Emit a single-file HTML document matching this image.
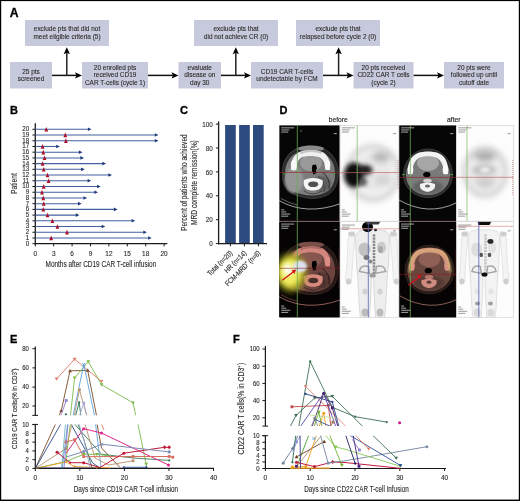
<!DOCTYPE html>
<html><head><meta charset="utf-8"><style>
html,body{margin:0;padding:0;background:#fff;}
body{width:520px;height:501px;overflow:hidden;}
svg{display:block;will-change:transform;font-family:"Liberation Sans",sans-serif;}
</style></head><body>
<svg width="520" height="501" viewBox="0 0 520 501">
<rect width="520" height="501" fill="#fff"/>
<rect x="0" y="0" width="520" height="1.1" fill="#000"/>
<rect x="0" y="0" width="1.2" height="501" fill="#000"/>
<rect x="518.8" y="0" width="1.2" height="501" fill="#000"/>
<rect x="0" y="499.6" width="520" height="1.4" fill="#000"/>
<text transform="translate(9.80,16.50)" font-size="12.2" text-anchor="start" fill="#000" font-weight="bold" stroke="#000" stroke-width="0.3">A</text>
<rect x="25" y="20" width="84" height="26" fill="#c7c9dc"/>
<text transform="translate(67.00,31.30) scale(0.9000,1)" font-size="7.2" text-anchor="middle" fill="#2a2a2a" stroke="#2a2a2a" stroke-width="0.1">exclude pts that did not</text>
<text transform="translate(67.00,38.50) scale(0.9000,1)" font-size="7.2" text-anchor="middle" fill="#2a2a2a" stroke="#2a2a2a" stroke-width="0.1">meet eligible criteria (5)</text>
<rect x="194" y="20" width="84" height="26" fill="#c7c9dc"/>
<text transform="translate(236.00,31.30) scale(0.9000,1)" font-size="7.2" text-anchor="middle" fill="#2a2a2a" stroke="#2a2a2a" stroke-width="0.1">exclude pts that</text>
<text transform="translate(236.00,38.50) scale(0.9000,1)" font-size="7.2" text-anchor="middle" fill="#2a2a2a" stroke="#2a2a2a" stroke-width="0.1">did not achieve CR (0)</text>
<rect x="296" y="20" width="84" height="26" fill="#c7c9dc"/>
<text transform="translate(338.00,31.30) scale(0.9000,1)" font-size="7.2" text-anchor="middle" fill="#2a2a2a" stroke="#2a2a2a" stroke-width="0.1">exclude pts that</text>
<text transform="translate(338.00,38.50) scale(0.9000,1)" font-size="7.2" text-anchor="middle" fill="#2a2a2a" stroke="#2a2a2a" stroke-width="0.1">relapsed before cycle 2 (0)</text>
<rect x="10" y="62" width="42" height="26.5" fill="#c7c9dc"/>
<text transform="translate(31.00,73.60) scale(0.9000,1)" font-size="7.2" text-anchor="middle" fill="#2a2a2a" stroke="#2a2a2a" stroke-width="0.1">25 pts</text>
<text transform="translate(31.00,80.90) scale(0.9000,1)" font-size="7.2" text-anchor="middle" fill="#2a2a2a" stroke="#2a2a2a" stroke-width="0.1">screened</text>
<rect x="82" y="62" width="66" height="26.5" fill="#c7c9dc"/>
<text transform="translate(115.00,69.90) scale(0.9000,1)" font-size="7.2" text-anchor="middle" fill="#2a2a2a" stroke="#2a2a2a" stroke-width="0.1">20 enrolled pts</text>
<text transform="translate(115.00,77.40) scale(0.9000,1)" font-size="7.2" text-anchor="middle" fill="#2a2a2a" stroke="#2a2a2a" stroke-width="0.1">received CD19</text>
<text transform="translate(115.00,84.90) scale(0.9000,1)" font-size="7.2" text-anchor="middle" fill="#2a2a2a" stroke="#2a2a2a" stroke-width="0.1">CAR T-cells (cycle 1)</text>
<rect x="178.5" y="62" width="42.5" height="26.5" fill="#c7c9dc"/>
<text transform="translate(199.75,69.90) scale(0.9000,1)" font-size="7.2" text-anchor="middle" fill="#2a2a2a" stroke="#2a2a2a" stroke-width="0.1">evaluate</text>
<text transform="translate(199.75,77.40) scale(0.9000,1)" font-size="7.2" text-anchor="middle" fill="#2a2a2a" stroke="#2a2a2a" stroke-width="0.1">disease on</text>
<text transform="translate(199.75,84.90) scale(0.9000,1)" font-size="7.2" text-anchor="middle" fill="#2a2a2a" stroke="#2a2a2a" stroke-width="0.1">day 30</text>
<rect x="251" y="62" width="72" height="26.5" fill="#c7c9dc"/>
<text transform="translate(287.00,73.60) scale(0.9000,1)" font-size="7.2" text-anchor="middle" fill="#2a2a2a" stroke="#2a2a2a" stroke-width="0.1">CD19 CAR T-cells</text>
<text transform="translate(287.00,80.90) scale(0.9000,1)" font-size="7.2" text-anchor="middle" fill="#2a2a2a" stroke="#2a2a2a" stroke-width="0.1">undetectable by FCM</text>
<rect x="353.5" y="62" width="60" height="26.5" fill="#c7c9dc"/>
<text transform="translate(383.50,69.90) scale(0.9000,1)" font-size="7.2" text-anchor="middle" fill="#2a2a2a" stroke="#2a2a2a" stroke-width="0.1">20 pts received</text>
<text transform="translate(383.50,77.40) scale(0.9000,1)" font-size="7.2" text-anchor="middle" fill="#2a2a2a" stroke="#2a2a2a" stroke-width="0.1">CD22 CAR T cells</text>
<text transform="translate(383.50,84.90) scale(0.9000,1)" font-size="7.2" text-anchor="middle" fill="#2a2a2a" stroke="#2a2a2a" stroke-width="0.1">(cycle 2)</text>
<rect x="444" y="62" width="60" height="26.5" fill="#c7c9dc"/>
<text transform="translate(474.00,69.90) scale(0.9000,1)" font-size="7.2" text-anchor="middle" fill="#2a2a2a" stroke="#2a2a2a" stroke-width="0.1">20 pts were</text>
<text transform="translate(474.00,77.40) scale(0.9000,1)" font-size="7.2" text-anchor="middle" fill="#2a2a2a" stroke="#2a2a2a" stroke-width="0.1">followed up until</text>
<text transform="translate(474.00,84.90) scale(0.9000,1)" font-size="7.2" text-anchor="middle" fill="#2a2a2a" stroke="#2a2a2a" stroke-width="0.1">cutoff date</text>
<line x1="52" y1="75.4" x2="77" y2="75.4" stroke="#111" stroke-width="1.5"/>
<path d="M82,75.4 L75,72.2 L76.5,75.4 L75,78.60000000000001 Z" fill="#000"/>
<line x1="66.8" y1="76.10000000000001" x2="66.8" y2="52.3" stroke="#222" stroke-width="1.5"/>
<path d="M66.8,47.3 L63.599999999999994,54.3 L66.8,52.8 L70.0,54.3 Z" fill="#000"/>
<line x1="148" y1="75.4" x2="173.5" y2="75.4" stroke="#111" stroke-width="1.5"/>
<path d="M178.5,75.4 L171.5,72.2 L173.0,75.4 L171.5,78.60000000000001 Z" fill="#000"/>
<line x1="221" y1="75.4" x2="246" y2="75.4" stroke="#111" stroke-width="1.5"/>
<path d="M251,75.4 L244,72.2 L245.5,75.4 L244,78.60000000000001 Z" fill="#000"/>
<line x1="235.8" y1="76.10000000000001" x2="235.8" y2="52.3" stroke="#222" stroke-width="1.5"/>
<path d="M235.8,47.3 L232.60000000000002,54.3 L235.8,52.8 L239.0,54.3 Z" fill="#000"/>
<line x1="323" y1="75.4" x2="348.5" y2="75.4" stroke="#111" stroke-width="1.5"/>
<path d="M353.5,75.4 L346.5,72.2 L348.0,75.4 L346.5,78.60000000000001 Z" fill="#000"/>
<line x1="338.6" y1="76.10000000000001" x2="338.6" y2="52.3" stroke="#222" stroke-width="1.5"/>
<path d="M338.6,47.3 L335.40000000000003,54.3 L338.6,52.8 L341.8,54.3 Z" fill="#000"/>
<line x1="413.6" y1="75.4" x2="439" y2="75.4" stroke="#111" stroke-width="1.5"/>
<path d="M444,75.4 L437,72.2 L438.5,75.4 L437,78.60000000000001 Z" fill="#000"/>
<text transform="translate(10.00,113.70)" font-size="11" text-anchor="start" fill="#000" font-weight="bold" stroke="#000" stroke-width="0.3">B</text>
<line x1="35.3" y1="123.3" x2="35.3" y2="244.29999999999998" stroke="#1a1a1a" stroke-width="1.3"/>
<line x1="34.699999999999996" y1="243.7" x2="167.3" y2="243.7" stroke="#1a1a1a" stroke-width="1.3"/>
<line x1="32.4" y1="243.70" x2="35.3" y2="243.70" stroke="#1a1a1a" stroke-width="1"/>
<text transform="translate(29.20,245.60) scale(0.8200,1)" font-size="7.6" text-anchor="end" fill="#333" stroke="#333" stroke-width="0.15">0</text>
<line x1="32.4" y1="237.98" x2="35.3" y2="237.98" stroke="#1a1a1a" stroke-width="1"/>
<text transform="translate(29.20,239.88) scale(0.8200,1)" font-size="7.6" text-anchor="end" fill="#333" stroke="#333" stroke-width="0.15">1</text>
<line x1="32.4" y1="232.26" x2="35.3" y2="232.26" stroke="#1a1a1a" stroke-width="1"/>
<text transform="translate(29.20,234.16) scale(0.8200,1)" font-size="7.6" text-anchor="end" fill="#333" stroke="#333" stroke-width="0.15">2</text>
<line x1="32.4" y1="226.54" x2="35.3" y2="226.54" stroke="#1a1a1a" stroke-width="1"/>
<text transform="translate(29.20,228.44) scale(0.8200,1)" font-size="7.6" text-anchor="end" fill="#333" stroke="#333" stroke-width="0.15">3</text>
<line x1="32.4" y1="220.82" x2="35.3" y2="220.82" stroke="#1a1a1a" stroke-width="1"/>
<text transform="translate(29.20,222.72) scale(0.8200,1)" font-size="7.6" text-anchor="end" fill="#333" stroke="#333" stroke-width="0.15">4</text>
<line x1="32.4" y1="215.10" x2="35.3" y2="215.10" stroke="#1a1a1a" stroke-width="1"/>
<text transform="translate(29.20,217.00) scale(0.8200,1)" font-size="7.6" text-anchor="end" fill="#333" stroke="#333" stroke-width="0.15">5</text>
<line x1="32.4" y1="209.38" x2="35.3" y2="209.38" stroke="#1a1a1a" stroke-width="1"/>
<text transform="translate(29.20,211.28) scale(0.8200,1)" font-size="7.6" text-anchor="end" fill="#333" stroke="#333" stroke-width="0.15">6</text>
<line x1="32.4" y1="203.66" x2="35.3" y2="203.66" stroke="#1a1a1a" stroke-width="1"/>
<text transform="translate(29.20,205.56) scale(0.8200,1)" font-size="7.6" text-anchor="end" fill="#333" stroke="#333" stroke-width="0.15">7</text>
<line x1="32.4" y1="197.94" x2="35.3" y2="197.94" stroke="#1a1a1a" stroke-width="1"/>
<text transform="translate(29.20,199.84) scale(0.8200,1)" font-size="7.6" text-anchor="end" fill="#333" stroke="#333" stroke-width="0.15">8</text>
<line x1="32.4" y1="192.22" x2="35.3" y2="192.22" stroke="#1a1a1a" stroke-width="1"/>
<text transform="translate(29.20,194.12) scale(0.8200,1)" font-size="7.6" text-anchor="end" fill="#333" stroke="#333" stroke-width="0.15">9</text>
<line x1="32.4" y1="186.50" x2="35.3" y2="186.50" stroke="#1a1a1a" stroke-width="1"/>
<text transform="translate(29.20,188.40) scale(0.8200,1)" font-size="7.6" text-anchor="end" fill="#333" stroke="#333" stroke-width="0.15">10</text>
<line x1="32.4" y1="180.78" x2="35.3" y2="180.78" stroke="#1a1a1a" stroke-width="1"/>
<text transform="translate(29.20,182.68) scale(0.8200,1)" font-size="7.6" text-anchor="end" fill="#333" stroke="#333" stroke-width="0.15">11</text>
<line x1="32.4" y1="175.06" x2="35.3" y2="175.06" stroke="#1a1a1a" stroke-width="1"/>
<text transform="translate(29.20,176.96) scale(0.8200,1)" font-size="7.6" text-anchor="end" fill="#333" stroke="#333" stroke-width="0.15">12</text>
<line x1="32.4" y1="169.34" x2="35.3" y2="169.34" stroke="#1a1a1a" stroke-width="1"/>
<text transform="translate(29.20,171.24) scale(0.8200,1)" font-size="7.6" text-anchor="end" fill="#333" stroke="#333" stroke-width="0.15">13</text>
<line x1="32.4" y1="163.62" x2="35.3" y2="163.62" stroke="#1a1a1a" stroke-width="1"/>
<text transform="translate(29.20,165.52) scale(0.8200,1)" font-size="7.6" text-anchor="end" fill="#333" stroke="#333" stroke-width="0.15">14</text>
<line x1="32.4" y1="157.90" x2="35.3" y2="157.90" stroke="#1a1a1a" stroke-width="1"/>
<text transform="translate(29.20,159.80) scale(0.8200,1)" font-size="7.6" text-anchor="end" fill="#333" stroke="#333" stroke-width="0.15">15</text>
<line x1="32.4" y1="152.18" x2="35.3" y2="152.18" stroke="#1a1a1a" stroke-width="1"/>
<text transform="translate(29.20,154.08) scale(0.8200,1)" font-size="7.6" text-anchor="end" fill="#333" stroke="#333" stroke-width="0.15">16</text>
<line x1="32.4" y1="146.46" x2="35.3" y2="146.46" stroke="#1a1a1a" stroke-width="1"/>
<text transform="translate(29.20,148.36) scale(0.8200,1)" font-size="7.6" text-anchor="end" fill="#333" stroke="#333" stroke-width="0.15">17</text>
<line x1="32.4" y1="140.74" x2="35.3" y2="140.74" stroke="#1a1a1a" stroke-width="1"/>
<text transform="translate(29.20,142.64) scale(0.8200,1)" font-size="7.6" text-anchor="end" fill="#333" stroke="#333" stroke-width="0.15">18</text>
<line x1="32.4" y1="135.02" x2="35.3" y2="135.02" stroke="#1a1a1a" stroke-width="1"/>
<text transform="translate(29.20,136.92) scale(0.8200,1)" font-size="7.6" text-anchor="end" fill="#333" stroke="#333" stroke-width="0.15">19</text>
<line x1="32.4" y1="129.30" x2="35.3" y2="129.30" stroke="#1a1a1a" stroke-width="1"/>
<text transform="translate(29.20,131.20) scale(0.8200,1)" font-size="7.6" text-anchor="end" fill="#333" stroke="#333" stroke-width="0.15">20</text>
<line x1="35.30" y1="243.7" x2="35.30" y2="246.4" stroke="#1a1a1a" stroke-width="1"/>
<text transform="translate(35.30,256.10) scale(0.8500,1)" font-size="7.6" text-anchor="middle" fill="#333" stroke="#333" stroke-width="0.15">0</text>
<line x1="53.70" y1="243.7" x2="53.70" y2="246.4" stroke="#1a1a1a" stroke-width="1"/>
<text transform="translate(53.70,256.10) scale(0.8500,1)" font-size="7.6" text-anchor="middle" fill="#333" stroke="#333" stroke-width="0.15">3</text>
<line x1="72.10" y1="243.7" x2="72.10" y2="246.4" stroke="#1a1a1a" stroke-width="1"/>
<text transform="translate(72.10,256.10) scale(0.8500,1)" font-size="7.6" text-anchor="middle" fill="#333" stroke="#333" stroke-width="0.15">6</text>
<line x1="90.50" y1="243.7" x2="90.50" y2="246.4" stroke="#1a1a1a" stroke-width="1"/>
<text transform="translate(90.50,256.10) scale(0.8500,1)" font-size="7.6" text-anchor="middle" fill="#333" stroke="#333" stroke-width="0.15">9</text>
<line x1="108.90" y1="243.7" x2="108.90" y2="246.4" stroke="#1a1a1a" stroke-width="1"/>
<text transform="translate(108.90,256.10) scale(0.8500,1)" font-size="7.6" text-anchor="middle" fill="#333" stroke="#333" stroke-width="0.15">12</text>
<line x1="127.30" y1="243.7" x2="127.30" y2="246.4" stroke="#1a1a1a" stroke-width="1"/>
<text transform="translate(127.30,256.10) scale(0.8500,1)" font-size="7.6" text-anchor="middle" fill="#333" stroke="#333" stroke-width="0.15">15</text>
<line x1="145.70" y1="243.7" x2="145.70" y2="246.4" stroke="#1a1a1a" stroke-width="1"/>
<text transform="translate(145.70,256.10) scale(0.8500,1)" font-size="7.6" text-anchor="middle" fill="#333" stroke="#333" stroke-width="0.15">18</text>
<line x1="164.10" y1="243.7" x2="164.10" y2="246.4" stroke="#1a1a1a" stroke-width="1"/>
<text transform="translate(164.10,256.10) scale(0.8500,1)" font-size="7.6" text-anchor="middle" fill="#333" stroke="#333" stroke-width="0.15">20</text>
<text transform="translate(45.50,267.40) scale(0.7270,1)" font-size="8.9" text-anchor="start" fill="#333" stroke="#333" stroke-width="0.15">Months after CD19 CAR T-cell infusion</text>
<text transform="translate(17.00,183.60) rotate(-90) scale(0.7915,1)" font-size="8.4" text-anchor="middle" fill="#333" stroke="#333" stroke-width="0.15">Patient</text>
<line x1="35.3" y1="129.30" x2="89.00" y2="129.30" stroke="#42609f" stroke-width="1.05"/>
<path d="M91.50,129.30 L87.90,127.50 L87.90,131.10 Z" fill="#1e3a7a"/>
<line x1="35.3" y1="135.02" x2="155.90" y2="135.02" stroke="#42609f" stroke-width="1.05"/>
<path d="M158.40,135.02 L154.80,133.22 L154.80,136.82 Z" fill="#1e3a7a"/>
<line x1="35.3" y1="140.74" x2="155.90" y2="140.74" stroke="#42609f" stroke-width="1.05"/>
<path d="M158.40,140.74 L154.80,138.94 L154.80,142.54 Z" fill="#1e3a7a"/>
<line x1="35.3" y1="146.46" x2="57.30" y2="146.46" stroke="#42609f" stroke-width="1.05"/>
<path d="M59.80,146.46 L56.20,144.66 L56.20,148.26 Z" fill="#1e3a7a"/>
<line x1="35.3" y1="152.18" x2="80.00" y2="152.18" stroke="#42609f" stroke-width="1.05"/>
<path d="M82.50,152.18 L78.90,150.38 L78.90,153.98 Z" fill="#1e3a7a"/>
<line x1="35.3" y1="157.90" x2="81.50" y2="157.90" stroke="#42609f" stroke-width="1.05"/>
<path d="M84.00,157.90 L80.40,156.10 L80.40,159.70 Z" fill="#1e3a7a"/>
<line x1="35.3" y1="163.62" x2="103.50" y2="163.62" stroke="#42609f" stroke-width="1.05"/>
<path d="M106.00,163.62 L102.40,161.82 L102.40,165.42 Z" fill="#1e3a7a"/>
<line x1="35.3" y1="169.34" x2="82.20" y2="169.34" stroke="#42609f" stroke-width="1.05"/>
<path d="M84.70,169.34 L81.10,167.54 L81.10,171.14 Z" fill="#1e3a7a"/>
<line x1="35.3" y1="175.06" x2="109.50" y2="175.06" stroke="#42609f" stroke-width="1.05"/>
<path d="M112.00,175.06 L108.40,173.26 L108.40,176.86 Z" fill="#1e3a7a"/>
<line x1="35.3" y1="180.78" x2="88.70" y2="180.78" stroke="#42609f" stroke-width="1.05"/>
<path d="M91.20,180.78 L87.60,178.98 L87.60,182.58 Z" fill="#1e3a7a"/>
<line x1="35.3" y1="186.50" x2="98.20" y2="186.50" stroke="#42609f" stroke-width="1.05"/>
<path d="M100.70,186.50 L97.10,184.70 L97.10,188.30 Z" fill="#1e3a7a"/>
<line x1="35.3" y1="192.22" x2="95.50" y2="192.22" stroke="#42609f" stroke-width="1.05"/>
<path d="M98.00,192.22 L94.40,190.42 L94.40,194.02 Z" fill="#1e3a7a"/>
<line x1="35.3" y1="197.94" x2="84.60" y2="197.94" stroke="#42609f" stroke-width="1.05"/>
<path d="M87.10,197.94 L83.50,196.14 L83.50,199.74 Z" fill="#1e3a7a"/>
<line x1="35.3" y1="203.66" x2="79.10" y2="203.66" stroke="#42609f" stroke-width="1.05"/>
<path d="M81.60,203.66 L78.00,201.86 L78.00,205.46 Z" fill="#1e3a7a"/>
<line x1="35.3" y1="209.38" x2="115.00" y2="209.38" stroke="#42609f" stroke-width="1.05"/>
<path d="M117.50,209.38 L113.90,207.58 L113.90,211.18 Z" fill="#1e3a7a"/>
<line x1="35.3" y1="215.10" x2="76.90" y2="215.10" stroke="#42609f" stroke-width="1.05"/>
<path d="M79.40,215.10 L75.80,213.30 L75.80,216.90 Z" fill="#1e3a7a"/>
<line x1="35.3" y1="220.82" x2="132.70" y2="220.82" stroke="#42609f" stroke-width="1.05"/>
<path d="M135.20,220.82 L131.60,219.02 L131.60,222.62 Z" fill="#1e3a7a"/>
<line x1="35.3" y1="226.54" x2="102.80" y2="226.54" stroke="#42609f" stroke-width="1.05"/>
<path d="M105.30,226.54 L101.70,224.74 L101.70,228.34 Z" fill="#1e3a7a"/>
<line x1="35.3" y1="232.26" x2="144.40" y2="232.26" stroke="#42609f" stroke-width="1.05"/>
<path d="M146.90,232.26 L143.30,230.46 L143.30,234.06 Z" fill="#1e3a7a"/>
<line x1="35.3" y1="237.98" x2="149.20" y2="237.98" stroke="#42609f" stroke-width="1.05"/>
<path d="M151.70,237.98 L148.10,236.18 L148.10,239.78 Z" fill="#1e3a7a"/>
<path d="M46.30,126.90 L48.20,131.50 L44.40,131.50 Z" fill="#a8102c"/>
<path d="M65.30,132.62 L67.20,137.22 L63.40,137.22 Z" fill="#a8102c"/>
<path d="M65.90,138.34 L67.80,142.94 L64.00,142.94 Z" fill="#a8102c"/>
<path d="M42.60,144.06 L44.50,148.66 L40.70,148.66 Z" fill="#a8102c"/>
<path d="M43.30,149.78 L45.20,154.38 L41.40,154.38 Z" fill="#a8102c"/>
<path d="M44.50,155.50 L46.40,160.10 L42.60,160.10 Z" fill="#a8102c"/>
<path d="M42.60,161.22 L44.50,165.82 L40.70,165.82 Z" fill="#a8102c"/>
<path d="M43.70,166.94 L45.60,171.54 L41.80,171.54 Z" fill="#a8102c"/>
<path d="M47.50,172.66 L49.40,177.26 L45.60,177.26 Z" fill="#a8102c"/>
<path d="M48.60,178.38 L50.50,182.98 L46.70,182.98 Z" fill="#a8102c"/>
<path d="M43.70,184.10 L45.60,188.70 L41.80,188.70 Z" fill="#a8102c"/>
<path d="M42.00,189.82 L43.90,194.42 L40.10,194.42 Z" fill="#a8102c"/>
<path d="M43.30,195.54 L45.20,200.14 L41.40,200.14 Z" fill="#a8102c"/>
<path d="M43.70,201.26 L45.60,205.86 L41.80,205.86 Z" fill="#a8102c"/>
<path d="M43.30,206.98 L45.20,211.58 L41.40,211.58 Z" fill="#a8102c"/>
<path d="M47.50,212.70 L49.40,217.30 L45.60,217.30 Z" fill="#a8102c"/>
<path d="M52.40,218.42 L54.30,223.02 L50.50,223.02 Z" fill="#a8102c"/>
<path d="M57.40,224.14 L59.30,228.74 L55.50,228.74 Z" fill="#a8102c"/>
<path d="M67.00,229.86 L68.90,234.46 L65.10,234.46 Z" fill="#a8102c"/>
<path d="M51.20,235.58 L53.10,240.18 L49.30,240.18 Z" fill="#a8102c"/>
<text transform="translate(180.00,114.00)" font-size="11" text-anchor="start" fill="#000" font-weight="bold" stroke="#000" stroke-width="0.3">C</text>
<line x1="218.6" y1="121.4" x2="218.6" y2="244.3" stroke="#1a1a1a" stroke-width="1.3"/>
<line x1="215.9" y1="124.10" x2="218.6" y2="124.10" stroke="#1a1a1a" stroke-width="1"/>
<text transform="translate(212.80,126.70) scale(0.8500,1)" font-size="7.4" text-anchor="end" fill="#333" stroke="#333" stroke-width="0.15">100</text>
<line x1="215.9" y1="148.00" x2="218.6" y2="148.00" stroke="#1a1a1a" stroke-width="1"/>
<text transform="translate(212.80,150.60) scale(0.8500,1)" font-size="7.4" text-anchor="end" fill="#333" stroke="#333" stroke-width="0.15">80</text>
<line x1="215.9" y1="171.90" x2="218.6" y2="171.90" stroke="#1a1a1a" stroke-width="1"/>
<text transform="translate(212.80,174.50) scale(0.8500,1)" font-size="7.4" text-anchor="end" fill="#333" stroke="#333" stroke-width="0.15">60</text>
<line x1="215.9" y1="195.80" x2="218.6" y2="195.80" stroke="#1a1a1a" stroke-width="1"/>
<text transform="translate(212.80,198.40) scale(0.8500,1)" font-size="7.4" text-anchor="end" fill="#333" stroke="#333" stroke-width="0.15">40</text>
<line x1="215.9" y1="219.70" x2="218.6" y2="219.70" stroke="#1a1a1a" stroke-width="1"/>
<text transform="translate(212.80,222.30) scale(0.8500,1)" font-size="7.4" text-anchor="end" fill="#333" stroke="#333" stroke-width="0.15">20</text>
<line x1="215.9" y1="243.60" x2="218.6" y2="243.60" stroke="#1a1a1a" stroke-width="1"/>
<text transform="translate(212.80,246.20) scale(0.8500,1)" font-size="7.4" text-anchor="end" fill="#333" stroke="#333" stroke-width="0.15">0</text>
<rect x="225.1" y="125" width="10.7" height="118.6" fill="#2d4a7e"/>
<rect x="239.1" y="125" width="10.7" height="118.6" fill="#2d4a7e"/>
<rect x="253.0" y="125" width="10.7" height="118.6" fill="#2d4a7e"/>
<line x1="218.0" y1="243.6" x2="267" y2="243.6" stroke="#1a1a1a" stroke-width="1.3"/>
<line x1="230.4" y1="243.6" x2="230.4" y2="246.3" stroke="#1a1a1a" stroke-width="1"/>
<line x1="244.4" y1="243.6" x2="244.4" y2="246.3" stroke="#1a1a1a" stroke-width="1"/>
<line x1="258.4" y1="243.6" x2="258.4" y2="246.3" stroke="#1a1a1a" stroke-width="1"/>
<text transform="translate(233.00,253.60) rotate(-45) scale(0.8200,1)" font-size="7.4" text-anchor="end" fill="#333" stroke="#333" stroke-width="0.15">Total (n=20)</text>
<text transform="translate(247.00,253.60) rotate(-45) scale(0.8200,1)" font-size="7.4" text-anchor="end" fill="#333" stroke="#333" stroke-width="0.15">HR (n=14)</text>
<text transform="translate(261.00,253.60) rotate(-45) scale(0.8200,1)" font-size="7.4" text-anchor="end" fill="#333" stroke="#333" stroke-width="0.15">FCM-MRD⁺ (n=6)</text>
<text transform="translate(187.00,182.60) rotate(-90) scale(0.7917,1)" font-size="8.3" text-anchor="middle" fill="#333" stroke="#333" stroke-width="0.15">Percent of patients who achieved</text>
<text transform="translate(196.80,182.60) rotate(-90) scale(0.8048,1)" font-size="8.3" text-anchor="middle" fill="#333" stroke="#333" stroke-width="0.15">MRD complete remission(%)</text>
<text transform="translate(279.50,113.80)" font-size="11" text-anchor="start" fill="#000" font-weight="bold" stroke="#000" stroke-width="0.3">D</text>
<text transform="translate(338.20,121.70) scale(0.8724,1)" font-size="7.6" text-anchor="middle" fill="#222" stroke="#222" stroke-width="0.15">before</text>
<text transform="translate(453.80,121.70) scale(0.8943,1)" font-size="7.6" text-anchor="middle" fill="#222" stroke="#222" stroke-width="0.15">after</text>
<defs>
<filter id="bl03" x="-20%" y="-20%" width="140%" height="140%"><feGaussianBlur stdDeviation="0.35"/></filter>
<filter id="bl05" x="-20%" y="-20%" width="140%" height="140%"><feGaussianBlur stdDeviation="0.6"/></filter>
<filter id="bl1" x="-30%" y="-30%" width="160%" height="160%"><feGaussianBlur stdDeviation="1"/></filter>
<filter id="bl2" x="-50%" y="-50%" width="200%" height="200%"><feGaussianBlur stdDeviation="2"/></filter>
<filter id="bl3" x="-50%" y="-50%" width="200%" height="200%"><feGaussianBlur stdDeviation="3"/></filter>
<filter id="bl4" x="-50%" y="-50%" width="200%" height="200%"><feGaussianBlur stdDeviation="4.5"/></filter>
<filter id="tintB" color-interpolation-filters="sRGB"><feColorMatrix type="matrix" values="0.88 0 0 0 0  0 0.56 0 0 0  0 0 0.52 0 0  0 0 0 1 0"/></filter>
<filter id="tintA" color-interpolation-filters="sRGB"><feColorMatrix type="matrix" values="0.86 0 0 0 0  0 0.58 0 0 0  0 0 0.52 0 0  0 0 0 1 0"/></filter>
<clipPath id="c1"><rect x="279.2" y="125.2" width="60.6" height="96.2"/></clipPath>
<clipPath id="c2"><rect x="339.8" y="125.2" width="59.3" height="96.2"/></clipPath>
<clipPath id="c3"><rect x="399.1" y="125.2" width="57.2" height="96.2"/></clipPath>
<clipPath id="c4"><rect x="456.3" y="125.2" width="57.3" height="96.2"/></clipPath>
<clipPath id="c5"><rect x="279.2" y="221.4" width="60.6" height="96.2"/></clipPath>
<clipPath id="c6"><rect x="339.8" y="221.4" width="59.3" height="96.2"/></clipPath>
<clipPath id="c7"><rect x="399.1" y="221.4" width="57.2" height="96.2"/></clipPath>
<clipPath id="c8"><rect x="456.3" y="221.4" width="57.3" height="96.2"/></clipPath>
</defs>
<g clip-path="url(#c1)">
<rect x="279.2" y="125.2" width="60.6" height="96.2" fill="#060606"/>
<path d="M279 200.5 Q306 216 341 203.5" fill="none" stroke="#c8c8c8" stroke-width="0.8"/>
<path d="M281 198.5 Q289 203 297 205" fill="none" stroke="#a0a0a0" stroke-width="0.6"/>
<path d="M283 181 C281 170 283 160 290 153 C296 148 303 146 310 146 C319 146 327 149 332 155 C337 161 339 169 338 177 C337 186 333 193 325 196 C318 199 309 199 302 197 C292 195 285 190 283 181 Z" fill="#2a2a2a" stroke="#555" stroke-width="0.6"/>
<path d="M285.5 180 C284 170 286 162 292 156 C297 152 303 150.5 310 150.5 C318 150.5 325 153 329.5 158 C334 163 335.5 170 335 177 C334 185 330 191 323 193.5 C317 196 309 196 303 194.5 C294 193 287.5 188 285.5 180 Z" fill="#7c7c7c" filter="url(#bl03)"/>
<ellipse cx="294" cy="180" rx="9.5" ry="13" fill="#969696" filter="url(#bl1)"/>
<ellipse cx="322" cy="184" rx="9" ry="8" fill="#5e5e5e" filter="url(#bl1)"/>
<path d="M322 172 Q331 178 329 189" fill="none" stroke="#2a2a2a" stroke-width="0.9"/>
<path d="M318 176 Q326 182 324 192" fill="none" stroke="#3a3a3a" stroke-width="0.7"/>
<path d="M304 191 Q313 197 322 191" fill="none" stroke="#3c3c3c" stroke-width="0.8"/>
<ellipse cx="311" cy="163" rx="11" ry="8" fill="#9a9a9a" filter="url(#bl05)"/>
<ellipse cx="311" cy="148.5" rx="13" ry="3" fill="#8a8a8a" filter="url(#bl05)"/>
<path d="M291 170 C290.5 162 293 156 298.5 152.5 C304 149.5 316 149.5 322.5 152 C328 155 330.5 161 330 170 L325.5 170 C325.5 164 323.5 159.5 319.5 157.5 C315 155.5 306 155.5 301.5 157.5 C297.5 160 296.5 164 296.5 170 Z" fill="#f0f0f0"/>
<path d="M300 153.5 Q311 149 321.5 153" fill="none" stroke="#c4c4c4" stroke-width="1.8" filter="url(#bl03)"/>
<ellipse cx="294" cy="165" rx="3.2" ry="5.5" fill="#fafafa"/>
<ellipse cx="327.5" cy="165" rx="2.8" ry="5" fill="#fafafa"/>
<path d="M312.5 165 L316 164.5 L317 168.5 L315.8 170.5 L316.5 173 L313.5 174.5 L312.2 171.5 L311.8 168 Z" fill="#000"/>
<path d="M304 180 Q313 176 322.5 180 Q324 186 319 189.5 L315 190.5 L311 190.5 L307 189.5 Q302.5 186 304 180 Z" fill="#f6f6f6"/>
<ellipse cx="313.2" cy="184.3" rx="5" ry="2.8" fill="#505050"/>
<line x1="297.3" y1="125.2" x2="297.3" y2="221.4" stroke="#6aa84f" stroke-width="0.8"/>
<line x1="279.2" y1="172.4" x2="339.8" y2="172.4" stroke="#8e2a2a" stroke-width="0.7"/>
<line x1="279.7" y1="156" x2="279.7" y2="190" stroke="#802020" stroke-width="0.6" stroke-dasharray="1 1"/>
<line x1="339.2" y1="156" x2="339.2" y2="190" stroke="#802020" stroke-width="0.6" stroke-dasharray="1 1"/>
<rect x="283" y="173.2" width="3" height="1.2" fill="#4a8a3a"/><rect x="332.5" y="173.2" width="3" height="1.2" fill="#4a8a3a"/>
<rect x="300" y="130.5" width="2" height="1" fill="#4a8a3a"/>
<line x1="279.2" y1="220.6" x2="339.8" y2="220.6" stroke="#802020" stroke-width="0.6" stroke-dasharray="1 1"/>
<g fill="#d8d8d8" opacity="0.85"><rect x="281.2" y="127.4" width="13" height="0.9"/><rect x="281.2" y="129.5" width="8" height="0.9"/><rect x="281.2" y="131.6" width="7" height="0.9"/><rect x="333.8" y="133.2" width="3" height="0.9"/><rect x="281.2" y="209.4" width="3" height="0.9"/><rect x="281.2" y="211.5" width="5" height="0.9"/><rect x="281.2" y="213.6" width="9" height="0.9"/><rect x="281.2" y="215.70000000000002" width="7" height="0.9"/></g>
</g>
<g clip-path="url(#c3)">
<rect x="399.1" y="125.2" width="57.2" height="96.2" fill="#060606"/>
<path d="M398 199.5 Q428 217 457 202.5" fill="none" stroke="#c8c8c8" stroke-width="0.8"/>
<path d="M403.5 175 C403.5 161 414 149 428 149 C442 149 452.5 161 452.5 175 C452.5 188 441 197.5 428 197.5 C415 197.5 403.5 188 403.5 175 Z" fill="#2a2a2a" stroke="#555" stroke-width="0.6"/>
<path d="M406 175 C406 163 416 152.5 428 152.5 C440 152.5 450 163 450 175 C450 187 440 195 428 195 C416 195 406 187 406 175 Z" fill="#7a7a7a" filter="url(#bl03)"/>
<ellipse cx="428" cy="187" rx="15" ry="7" fill="#646464" filter="url(#bl1)"/>
<ellipse cx="428" cy="163" rx="11" ry="8" fill="#a6a6a6" filter="url(#bl05)"/>
<path d="M408 174 C407 163 411 155.5 418 153 C423.5 151 432.5 151 438 153 C445 155.5 449 163 448 174 L443.5 174 C444 166 441.5 160 436 157.5 C431.5 155.8 424.5 155.8 420 157.5 C414.5 160 412 166 412.5 174 Z" fill="#f3f3f3"/>
<ellipse cx="410.5" cy="170" rx="2.8" ry="4.5" fill="#fafafa"/>
<ellipse cx="445.5" cy="170" rx="2.8" ry="4.5" fill="#fafafa"/>
<ellipse cx="426.8" cy="174.5" rx="3.6" ry="2.6" fill="#000"/>
<ellipse cx="427.5" cy="180.8" rx="4.3" ry="2" fill="#d2d2d2"/>
<path d="M420 184 Q427.5 181 435 184 Q436 189 431 191 L427.5 192 L424 191 Q419 189 420 184 Z" fill="#f2f2f2"/>
<ellipse cx="427.5" cy="186" rx="2.6" ry="1.6" fill="#6a6a6a"/>
<line x1="410.3" y1="125.2" x2="410.3" y2="221.4" stroke="#6aa84f" stroke-width="0.8"/>
<line x1="399.1" y1="177.4" x2="456.3" y2="177.4" stroke="#8e2a2a" stroke-width="0.7"/>
<rect x="402" y="174" width="3" height="1.2" fill="#4a8a3a"/><rect x="450" y="174" width="3" height="1.2" fill="#4a8a3a"/>
<line x1="399.1" y1="220.6" x2="456.3" y2="220.6" stroke="#802020" stroke-width="0.6" stroke-dasharray="1 1"/>
<g fill="#d8d8d8" opacity="0.85"><rect x="401.1" y="127.4" width="13" height="0.9"/><rect x="401.1" y="129.5" width="8" height="0.9"/><rect x="401.1" y="131.6" width="7" height="0.9"/><rect x="450.3" y="133.2" width="3" height="0.9"/><rect x="401.1" y="209.4" width="3" height="0.9"/><rect x="401.1" y="211.5" width="5" height="0.9"/><rect x="401.1" y="213.6" width="9" height="0.9"/><rect x="401.1" y="215.70000000000002" width="7" height="0.9"/></g>
</g>
<g clip-path="url(#c2)">
<rect x="339.8" y="125.2" width="59.3" height="96.2" fill="#fdfdfd"/>
<ellipse cx="373" cy="173" rx="25" ry="26" fill="none" stroke="#d2d2d2" stroke-width="6" filter="url(#bl3)"/>
<ellipse cx="373" cy="172" rx="20" ry="21" fill="#e9e9e9" filter="url(#bl3)"/>
<ellipse cx="381" cy="157" rx="9" ry="5" fill="#b4b4b4" filter="url(#bl3)"/>
<ellipse cx="383" cy="180" rx="9" ry="6" fill="#d4d4d4" filter="url(#bl3)"/>
<ellipse cx="354" cy="175" rx="10" ry="12.5" fill="#0c0c0c" filter="url(#bl2)"/>
<ellipse cx="365" cy="170" rx="7.5" ry="5" fill="#1a1a1a" filter="url(#bl2)"/>
<ellipse cx="363" cy="182" rx="4" ry="4" fill="#555" filter="url(#bl2)"/>
<rect x="339.8" y="125.2" width="59.3" height="96.2" fill="none" stroke="#c4c4c4" stroke-width="1"/>
<line x1="357.2" y1="125.2" x2="357.2" y2="221.4" stroke="#8cc06a" stroke-width="0.8"/>
<line x1="339.8" y1="172.6" x2="399.1" y2="172.6" stroke="#c06a6a" stroke-width="0.7"/>
<line x1="398.1" y1="160" x2="398.1" y2="190" stroke="#c06a6a" stroke-width="0.6" stroke-dasharray="1 1"/>
<g fill="#666" opacity="0.7"><rect x="341.8" y="127.4" width="13" height="0.9"/><rect x="341.8" y="129.5" width="8" height="0.9"/><rect x="341.8" y="131.6" width="7" height="0.9"/><rect x="393.1" y="133.2" width="3" height="0.9"/><rect x="341.8" y="209.4" width="3" height="0.9"/><rect x="341.8" y="211.5" width="5" height="0.9"/><rect x="341.8" y="213.6" width="9" height="0.9"/><rect x="341.8" y="215.70000000000002" width="7" height="0.9"/></g>
</g>
<g clip-path="url(#c4)">
<rect x="456.3" y="125.2" width="57.3" height="96.2" fill="#fdfdfd"/>
<ellipse cx="485" cy="172" rx="20" ry="23" fill="none" stroke="#d0d0d0" stroke-width="6" filter="url(#bl3)"/>
<ellipse cx="485" cy="174" rx="16" ry="17" fill="#e4e4e4" filter="url(#bl3)"/>
<ellipse cx="485" cy="156" rx="11" ry="5" fill="#a8a8a8" filter="url(#bl3)"/>
<ellipse cx="484" cy="170" rx="12" ry="5" fill="#c4c4c4" filter="url(#bl2)"/>
<ellipse cx="485" cy="182" rx="9" ry="6" fill="#cdcdcd" filter="url(#bl3)"/>
<ellipse cx="485" cy="170" rx="5" ry="3" fill="#e8e8e8" filter="url(#bl1)"/>
<rect x="456.3" y="125.2" width="57.3" height="96.2" fill="none" stroke="#c4c4c4" stroke-width="1"/>
<line x1="467" y1="125.2" x2="467" y2="221.4" stroke="#8cc06a" stroke-width="0.8"/>
<line x1="456.3" y1="177.3" x2="513.6" y2="177.3" stroke="#c06a6a" stroke-width="0.7"/>
<line x1="512.6" y1="160" x2="512.6" y2="195" stroke="#c06a6a" stroke-width="0.6" stroke-dasharray="1 1"/>
<g fill="#666" opacity="0.7"><rect x="458.3" y="127.4" width="13" height="0.9"/><rect x="458.3" y="129.5" width="8" height="0.9"/><rect x="458.3" y="131.6" width="7" height="0.9"/><rect x="507.6" y="133.2" width="3" height="0.9"/><rect x="458.3" y="209.4" width="3" height="0.9"/><rect x="458.3" y="211.5" width="5" height="0.9"/><rect x="458.3" y="213.6" width="9" height="0.9"/><rect x="458.3" y="215.70000000000002" width="7" height="0.9"/></g>
</g>
<g clip-path="url(#c5)">
<rect x="279.2" y="221.4" width="60.6" height="96.2" fill="#070505"/>
<ellipse cx="310" cy="268.5" rx="27" ry="27" fill="#6a2a1a" filter="url(#bl3)" opacity="0.9"/>
<g transform="translate(0,96.2)" filter="url(#tintB)"><g >
<rect x="279.2" y="125.2" width="60.6" height="96.2" fill="#060606"/>
<path d="M279 200.5 Q306 216 341 203.5" fill="none" stroke="#c8c8c8" stroke-width="0.8"/>
<path d="M281 198.5 Q289 203 297 205" fill="none" stroke="#a0a0a0" stroke-width="0.6"/>
<path d="M283 181 C281 170 283 160 290 153 C296 148 303 146 310 146 C319 146 327 149 332 155 C337 161 339 169 338 177 C337 186 333 193 325 196 C318 199 309 199 302 197 C292 195 285 190 283 181 Z" fill="#2a2a2a" stroke="#555" stroke-width="0.6"/>
<path d="M285.5 180 C284 170 286 162 292 156 C297 152 303 150.5 310 150.5 C318 150.5 325 153 329.5 158 C334 163 335.5 170 335 177 C334 185 330 191 323 193.5 C317 196 309 196 303 194.5 C294 193 287.5 188 285.5 180 Z" fill="#7c7c7c" filter="url(#bl03)"/>
<ellipse cx="294" cy="180" rx="9.5" ry="13" fill="#969696" filter="url(#bl1)"/>
<ellipse cx="322" cy="184" rx="9" ry="8" fill="#5e5e5e" filter="url(#bl1)"/>
<path d="M322 172 Q331 178 329 189" fill="none" stroke="#2a2a2a" stroke-width="0.9"/>
<path d="M318 176 Q326 182 324 192" fill="none" stroke="#3a3a3a" stroke-width="0.7"/>
<path d="M304 191 Q313 197 322 191" fill="none" stroke="#3c3c3c" stroke-width="0.8"/>
<ellipse cx="311" cy="163" rx="11" ry="8" fill="#9a9a9a" filter="url(#bl05)"/>
<ellipse cx="311" cy="148.5" rx="13" ry="3" fill="#8a8a8a" filter="url(#bl05)"/>
<path d="M291 170 C290.5 162 293 156 298.5 152.5 C304 149.5 316 149.5 322.5 152 C328 155 330.5 161 330 170 L325.5 170 C325.5 164 323.5 159.5 319.5 157.5 C315 155.5 306 155.5 301.5 157.5 C297.5 160 296.5 164 296.5 170 Z" fill="#f0f0f0"/>
<path d="M300 153.5 Q311 149 321.5 153" fill="none" stroke="#c4c4c4" stroke-width="1.8" filter="url(#bl03)"/>
<ellipse cx="294" cy="165" rx="3.2" ry="5.5" fill="#fafafa"/>
<ellipse cx="327.5" cy="165" rx="2.8" ry="5" fill="#fafafa"/>
<path d="M312.5 165 L316 164.5 L317 168.5 L315.8 170.5 L316.5 173 L313.5 174.5 L312.2 171.5 L311.8 168 Z" fill="#000"/>
<path d="M304 180 Q313 176 322.5 180 Q324 186 319 189.5 L315 190.5 L311 190.5 L307 189.5 Q302.5 186 304 180 Z" fill="#f6f6f6"/>
<ellipse cx="313.2" cy="184.3" rx="5" ry="2.8" fill="#505050"/>
</g></g>
<ellipse cx="291" cy="272.5" rx="15" ry="19" fill="#a8a820" filter="url(#bl3)"/>
<ellipse cx="290" cy="272.5" rx="10.5" ry="13.5" fill="#f0ec60" filter="url(#bl2)"/>
<ellipse cx="300" cy="266.5" rx="7" ry="6" fill="#dce0f0" filter="url(#bl1)"/>
<ellipse cx="288" cy="269.5" rx="5" ry="6" fill="#fffff0" filter="url(#bl2)"/>
<line x1="297.3" y1="221.4" x2="297.3" y2="317.6" stroke="#6aa84f" stroke-width="0.8"/>
<line x1="279.2" y1="268.3" x2="339.8" y2="268.3" stroke="#8a2020" stroke-width="0.6"/>
<line x1="338.8" y1="248.5" x2="338.8" y2="288.5" stroke="#802020" stroke-width="0.6" stroke-dasharray="1 1"/>
<g fill="#d8d8d8" opacity="0.85"><rect x="281.2" y="223.6" width="13" height="0.9"/><rect x="281.2" y="225.7" width="8" height="0.9"/><rect x="281.2" y="227.79999999999998" width="7" height="0.9"/><rect x="333.8" y="229.4" width="3" height="0.9"/><rect x="281.2" y="305.6" width="3" height="0.9"/><rect x="281.2" y="307.70000000000005" width="5" height="0.9"/><rect x="281.2" y="309.8" width="9" height="0.9"/><rect x="281.2" y="311.90000000000003" width="7" height="0.9"/></g>
</g>
<g clip-path="url(#c7)">
<rect x="399.1" y="221.4" width="57.2" height="96.2" fill="#070505"/>
<ellipse cx="430" cy="270.5" rx="27" ry="27" fill="#6a2a1a" filter="url(#bl3)" opacity="0.9"/>
<g transform="translate(1.5,96.2)" filter="url(#tintA)"><g >
<rect x="399.1" y="125.2" width="57.2" height="96.2" fill="#060606"/>
<path d="M398 199.5 Q428 217 457 202.5" fill="none" stroke="#c8c8c8" stroke-width="0.8"/>
<path d="M403.5 175 C403.5 161 414 149 428 149 C442 149 452.5 161 452.5 175 C452.5 188 441 197.5 428 197.5 C415 197.5 403.5 188 403.5 175 Z" fill="#2a2a2a" stroke="#555" stroke-width="0.6"/>
<path d="M406 175 C406 163 416 152.5 428 152.5 C440 152.5 450 163 450 175 C450 187 440 195 428 195 C416 195 406 187 406 175 Z" fill="#7a7a7a" filter="url(#bl03)"/>
<ellipse cx="428" cy="187" rx="15" ry="7" fill="#646464" filter="url(#bl1)"/>
<ellipse cx="428" cy="163" rx="11" ry="8" fill="#a6a6a6" filter="url(#bl05)"/>
<path d="M408 174 C407 163 411 155.5 418 153 C423.5 151 432.5 151 438 153 C445 155.5 449 163 448 174 L443.5 174 C444 166 441.5 160 436 157.5 C431.5 155.8 424.5 155.8 420 157.5 C414.5 160 412 166 412.5 174 Z" fill="#f3f3f3"/>
<ellipse cx="410.5" cy="170" rx="2.8" ry="4.5" fill="#fafafa"/>
<ellipse cx="445.5" cy="170" rx="2.8" ry="4.5" fill="#fafafa"/>
<ellipse cx="426.8" cy="174.5" rx="3.6" ry="2.6" fill="#000"/>
<ellipse cx="427.5" cy="180.8" rx="4.3" ry="2" fill="#d2d2d2"/>
<path d="M420 184 Q427.5 181 435 184 Q436 189 431 191 L427.5 192 L424 191 Q419 189 420 184 Z" fill="#f2f2f2"/>
<ellipse cx="427.5" cy="186" rx="2.6" ry="1.6" fill="#6a6a6a"/>
</g></g>
<path d="M410 272.5 C409 261.5 414 253.5 422 251.0 Q430 249.5 438 251.0 C446 253.5 451 261.5 450 272.5" fill="none" stroke="#e0d070" stroke-width="3" opacity="0.45" filter="url(#bl1)"/>
<line x1="410.3" y1="221.4" x2="410.3" y2="317.6" stroke="#6aa84f" stroke-width="0.8"/>
<line x1="399.1" y1="274.3" x2="456.3" y2="274.3" stroke="#8a2020" stroke-width="0.6"/>
<line x1="455.3" y1="250.5" x2="455.3" y2="290.5" stroke="#802020" stroke-width="0.6" stroke-dasharray="1 1"/>
<g fill="#d8d8d8" opacity="0.85"><rect x="401.1" y="223.6" width="13" height="0.9"/><rect x="401.1" y="225.7" width="8" height="0.9"/><rect x="401.1" y="227.79999999999998" width="7" height="0.9"/><rect x="450.3" y="229.4" width="3" height="0.9"/><rect x="401.1" y="305.6" width="3" height="0.9"/><rect x="401.1" y="307.70000000000005" width="5" height="0.9"/><rect x="401.1" y="309.8" width="9" height="0.9"/><rect x="401.1" y="311.90000000000003" width="7" height="0.9"/></g>
</g>
<line x1="282.3" y1="280.2" x2="292.86" y2="272.15" stroke="#d0101e" stroke-width="1.3"/><path d="M296.2,269.6 L294.25,273.98 L291.47,270.32 Z" fill="#d0101e"/>
<line x1="408.5" y1="285.2" x2="418.31" y2="277.41" stroke="#d0101e" stroke-width="1.3"/><path d="M421.6,274.8 L419.74,279.21 L416.88,275.61 Z" fill="#d0101e"/>
<g clip-path="url(#c6)">
<rect x="339.8" y="221.4" width="59.3" height="96.2" fill="#fdfdfd"/>
<g filter="url(#bl05)"><path d="M354.50,231.40 L350.50,233.40 L348.00,239.40 L347.50,256.40 L346.50,269.40 L345.50,279.40 L347.50,284.40 L351.50,282.40 L352.00,271.40 L353.00,257.40 L354.50,241.40 Z" fill="#f4f4f4" stroke="#e2e2e2" stroke-width="0.9"/><path d="M390.50,231.40 L394.50,233.40 L397.00,239.40 L397.50,256.40 L398.50,269.40 L399.50,279.40 L397.50,284.40 L393.50,282.40 L393.00,271.40 L392.00,257.40 L390.50,241.40 Z" fill="#f4f4f4" stroke="#e2e2e2" stroke-width="0.9"/><path d="M358.50,231.40 L364.50,229.90 L380.50,229.90 L386.50,231.40 L389.50,235.40 L389.00,251.40 L388.50,265.40 L387.50,273.40 L357.50,273.40 L356.50,265.40 L356.00,251.40 L355.50,235.40 Z" fill="#eeeeee" stroke="#d6d6d6" stroke-width="0.9"/><path d="M357.50,271.40 L371.50,273.40 L371.00,291.40 L370.00,309.40 L369.50,317.40 L360.50,317.40 L359.50,309.40 L358.50,291.40 Z" fill="#eeeeee" stroke="#d6d6d6" stroke-width="0.9"/><path d="M387.50,271.40 L373.50,273.40 L374.00,291.40 L375.00,309.40 L375.50,317.40 L384.50,317.40 L385.50,309.40 L386.50,291.40 Z" fill="#eeeeee" stroke="#d6d6d6" stroke-width="0.9"/></g>
<g filter="url(#bl05)"><rect x="372.70" y="234.40" width="2.6" height="2.2" fill="#858585"/><rect x="372.70" y="237.50" width="2.6" height="2.2" fill="#858585"/><rect x="372.70" y="240.60" width="2.6" height="2.2" fill="#858585"/><rect x="372.70" y="243.70" width="2.6" height="2.2" fill="#858585"/><rect x="372.70" y="246.80" width="2.6" height="2.2" fill="#858585"/><rect x="372.70" y="249.90" width="2.6" height="2.2" fill="#858585"/><rect x="372.70" y="253.00" width="2.6" height="2.2" fill="#858585"/><rect x="372.70" y="256.10" width="2.6" height="2.2" fill="#858585"/><rect x="372.70" y="259.20" width="2.6" height="2.2" fill="#858585"/><rect x="372.70" y="262.30" width="2.6" height="2.2" fill="#858585"/><rect x="372.70" y="265.40" width="2.6" height="2.2" fill="#858585"/><rect x="372.70" y="268.50" width="2.6" height="2.2" fill="#858585"/><rect x="372.70" y="271.60" width="2.6" height="2.2" fill="#858585"/><rect x="372.70" y="274.70" width="2.6" height="2.2" fill="#858585"/><ellipse cx="364.50" cy="249.4" rx="6.00" ry="7" fill="#c2c2c2"/><ellipse cx="381.50" cy="247.4" rx="4.50" ry="6" fill="#cbcbcb"/><path d="M359.50 271.4 Q360.50 264.4 368.50 266.4 L369.50 273.4 Z" fill="none" stroke="#a6a6a6" stroke-width="1.5"/><path d="M385.50 271.4 Q384.50 264.4 376.50 266.4 L375.50 273.4 Z" fill="none" stroke="#a6a6a6" stroke-width="1.5"/><ellipse cx="365.00" cy="291.4" rx="2.6" ry="3" fill="#d2d2d2"/><ellipse cx="380.00" cy="291.4" rx="2.6" ry="3" fill="#d2d2d2"/><ellipse cx="365.00" cy="312.4" rx="3.5" ry="4" fill="#bcbcbc"/><ellipse cx="380.00" cy="312.4" rx="3.5" ry="4" fill="#bcbcbc"/><ellipse cx="351.50" cy="233.9" rx="3.5" ry="2.5" fill="#cfcfcf"/><ellipse cx="393.50" cy="233.9" rx="3.5" ry="2.5" fill="#cfcfcf"/><ellipse cx="348.50" cy="281.4" rx="2.5" ry="3" fill="#cfcfcf"/><ellipse cx="396.50" cy="281.4" rx="2.5" ry="3" fill="#cfcfcf"/></g>
<ellipse cx="367.50" cy="226.9" rx="5.5" ry="5.2" fill="#050505" filter="url(#bl03)"/>
<path d="M364.50 221.4 L380.50 221.4 L378.50 224.4 L366.50 224.4 Z" fill="#3a3a3a" filter="url(#bl05)"/>
<ellipse cx="375.50" cy="229.9" rx="1.6" ry="1.3" fill="#222"/>
<ellipse cx="366.50" cy="257.4" rx="3" ry="2.5" fill="#7a7a7a" filter="url(#bl05)"/>
<ellipse cx="370.50" cy="261.4" rx="2" ry="2" fill="#8a8a8a" filter="url(#bl05)"/>
<ellipse cx="380.50" cy="249.4" rx="2.5" ry="3.5" fill="#a8a8a8" filter="url(#bl05)"/>
<ellipse cx="372.50" cy="275.4" rx="3" ry="2.2" fill="#a0a0a0" filter="url(#bl05)"/>
<rect x="339.8" y="221.4" width="59.3" height="96.2" fill="none" stroke="#c4c4c4" stroke-width="1"/>
<line x1="339.8" y1="228.8" x2="399.1" y2="228.8" stroke="#e0a8a8" stroke-width="0.9"/>
<line x1="368.3" y1="221.4" x2="368.3" y2="317.6" stroke="#5860b8" stroke-width="0.8"/>
<g fill="#666" opacity="0.7"><rect x="341.8" y="224.6" width="13" height="0.9"/><rect x="341.8" y="226.7" width="8" height="0.9"/><rect x="341.8" y="228.79999999999998" width="7" height="0.9"/><rect x="393.1" y="230.4" width="3" height="0.9"/><rect x="341.8" y="306.6" width="3" height="0.9"/><rect x="341.8" y="308.70000000000005" width="5" height="0.9"/><rect x="341.8" y="310.8" width="9" height="0.9"/><rect x="341.8" y="312.90000000000003" width="7" height="0.9"/></g>
</g>
<g clip-path="url(#c8)">
<rect x="456.3" y="221.4" width="57.3" height="96.2" fill="#fdfdfd"/>
<g filter="url(#bl05)"><path d="M467.44,231.40 L463.76,233.40 L461.46,239.40 L461.00,256.40 L460.08,269.40 L459.16,279.40 L461.00,284.40 L464.68,282.40 L465.14,271.40 L466.06,257.40 L467.44,241.40 Z" fill="#f4f4f4" stroke="#e2e2e2" stroke-width="0.9"/><path d="M500.56,231.40 L504.24,233.40 L506.54,239.40 L507.00,256.40 L507.92,269.40 L508.84,279.40 L507.00,284.40 L503.32,282.40 L502.86,271.40 L501.94,257.40 L500.56,241.40 Z" fill="#f4f4f4" stroke="#e2e2e2" stroke-width="0.9"/><path d="M471.12,231.40 L476.64,229.90 L491.36,229.90 L496.88,231.40 L499.64,235.40 L499.18,251.40 L498.72,265.40 L497.80,273.40 L470.20,273.40 L469.28,265.40 L468.82,251.40 L468.36,235.40 Z" fill="#f3f3f3" stroke="#dddddd" stroke-width="0.9"/><path d="M470.20,271.40 L483.08,273.40 L482.62,291.40 L481.70,309.40 L481.24,317.40 L472.96,317.40 L472.04,309.40 L471.12,291.40 Z" fill="#f3f3f3" stroke="#dddddd" stroke-width="0.9"/><path d="M497.80,271.40 L484.92,273.40 L485.38,291.40 L486.30,309.40 L486.76,317.40 L495.04,317.40 L495.96,309.40 L496.88,291.40 Z" fill="#f3f3f3" stroke="#dddddd" stroke-width="0.9"/></g>
<g filter="url(#bl05)"><rect x="484.18" y="234.40" width="2.6" height="2.2" fill="#c4c4c4"/><rect x="484.18" y="237.50" width="2.6" height="2.2" fill="#c4c4c4"/><rect x="484.18" y="240.60" width="2.6" height="2.2" fill="#c4c4c4"/><rect x="484.18" y="243.70" width="2.6" height="2.2" fill="#c4c4c4"/><rect x="484.18" y="246.80" width="2.6" height="2.2" fill="#c4c4c4"/><rect x="484.18" y="249.90" width="2.6" height="2.2" fill="#c4c4c4"/><rect x="484.18" y="253.00" width="2.6" height="2.2" fill="#c4c4c4"/><rect x="484.18" y="256.10" width="2.6" height="2.2" fill="#c4c4c4"/><rect x="484.18" y="259.20" width="2.6" height="2.2" fill="#c4c4c4"/><rect x="484.18" y="262.30" width="2.6" height="2.2" fill="#c4c4c4"/><rect x="484.18" y="265.40" width="2.6" height="2.2" fill="#c4c4c4"/><rect x="484.18" y="268.50" width="2.6" height="2.2" fill="#c4c4c4"/><rect x="484.18" y="271.60" width="2.6" height="2.2" fill="#c4c4c4"/><rect x="484.18" y="274.70" width="2.6" height="2.2" fill="#c4c4c4"/><ellipse cx="476.64" cy="249.4" rx="5.52" ry="7" fill="#dedede"/><ellipse cx="492.28" cy="247.4" rx="4.14" ry="6" fill="#e2e2e2"/><path d="M472.04 271.4 Q472.96 264.4 480.32 266.4 L481.24 273.4 Z" fill="none" stroke="#a6a6a6" stroke-width="1.5"/><path d="M495.96 271.4 Q495.04 264.4 487.68 266.4 L486.76 273.4 Z" fill="none" stroke="#a6a6a6" stroke-width="1.5"/><ellipse cx="477.10" cy="291.4" rx="2.6" ry="3" fill="#e4e4e4"/><ellipse cx="490.90" cy="291.4" rx="2.6" ry="3" fill="#e4e4e4"/><ellipse cx="477.10" cy="312.4" rx="3.5" ry="4" fill="#dadada"/><ellipse cx="490.90" cy="312.4" rx="3.5" ry="4" fill="#dadada"/><ellipse cx="464.68" cy="233.9" rx="3.5" ry="2.5" fill="#cfcfcf"/><ellipse cx="503.32" cy="233.9" rx="3.5" ry="2.5" fill="#cfcfcf"/><ellipse cx="461.92" cy="281.4" rx="2.5" ry="3" fill="#cfcfcf"/><ellipse cx="506.08" cy="281.4" rx="2.5" ry="3" fill="#cfcfcf"/></g>
<path d="M477.56 221.4 L491.36 221.4 L489.52 224.9 L478.48 224.9 Z" fill="#0a0a0a" filter="url(#bl03)"/>
<ellipse cx="490.44" cy="241.4" rx="3" ry="2.4" fill="#2a2a2a" filter="url(#bl03)"/>
<ellipse cx="481.24" cy="254.9" rx="1.8" ry="2.2" fill="#555" filter="url(#bl03)"/>
<ellipse cx="489.52" cy="254.9" rx="1.8" ry="2.2" fill="#555" filter="url(#bl03)"/>
<ellipse cx="484.46" cy="274.4" rx="3" ry="2" fill="#0a0a0a" filter="url(#bl03)"/>
<ellipse cx="477.56" cy="303.4" rx="2.5" ry="2" fill="#a0a0a0" filter="url(#bl05)"/>
<ellipse cx="490.44" cy="303.4" rx="2.5" ry="2" fill="#a0a0a0" filter="url(#bl05)"/>
<rect x="456.3" y="221.4" width="57.3" height="96.2" fill="none" stroke="#c4c4c4" stroke-width="1"/>
<line x1="456.3" y1="226.3" x2="513.6" y2="226.3" stroke="#e0a8a8" stroke-width="0.9"/>
<line x1="478.8" y1="221.4" x2="478.8" y2="317.6" stroke="#5860b8" stroke-width="0.8"/>
<g fill="#666" opacity="0.7"><rect x="458.3" y="224.6" width="13" height="0.9"/><rect x="458.3" y="226.7" width="8" height="0.9"/><rect x="458.3" y="228.79999999999998" width="7" height="0.9"/><rect x="507.6" y="230.4" width="3" height="0.9"/><rect x="458.3" y="306.6" width="3" height="0.9"/><rect x="458.3" y="308.70000000000005" width="5" height="0.9"/><rect x="458.3" y="310.8" width="9" height="0.9"/><rect x="458.3" y="312.90000000000003" width="7" height="0.9"/></g>
</g>
<defs>
<clipPath id="eU"><rect x="35.9" y="340" width="200" height="75.2"/></clipPath>
<clipPath id="eL"><rect x="35.9" y="424.4" width="200" height="46"/></clipPath>
<clipPath id="fU"><rect x="265.9" y="340" width="200" height="86.1"/></clipPath>
<clipPath id="fL"><rect x="265.9" y="435.7" width="200" height="35"/></clipPath>
</defs>
<text transform="translate(9.90,343.00)" font-size="11" text-anchor="start" fill="#000" font-weight="bold" stroke="#000" stroke-width="0.3">E</text>
<line x1="35.3" y1="346.4" x2="35.3" y2="415.4" stroke="#1a1a1a" stroke-width="1.2"/>
<line x1="32.3" y1="415.4" x2="38" y2="415.4" stroke="#1a1a1a" stroke-width="1"/>
<line x1="35.3" y1="424.4" x2="35.3" y2="469" stroke="#1a1a1a" stroke-width="1.2"/>
<line x1="32.3" y1="424.4" x2="38" y2="424.4" stroke="#1a1a1a" stroke-width="1"/>
<line x1="32.4" y1="348.7" x2="35.3" y2="348.7" stroke="#1a1a1a" stroke-width="1"/>
<text transform="translate(28.80,351.00) scale(0.9000,1)" font-size="6.6" text-anchor="end" fill="#333" stroke="#333" stroke-width="0.15">80</text>
<line x1="32.4" y1="367.9" x2="35.3" y2="367.9" stroke="#1a1a1a" stroke-width="1"/>
<text transform="translate(28.80,370.20) scale(0.9000,1)" font-size="6.6" text-anchor="end" fill="#333" stroke="#333" stroke-width="0.15">60</text>
<line x1="32.4" y1="387.1" x2="35.3" y2="387.1" stroke="#1a1a1a" stroke-width="1"/>
<text transform="translate(28.80,389.40) scale(0.9000,1)" font-size="6.6" text-anchor="end" fill="#333" stroke="#333" stroke-width="0.15">40</text>
<line x1="32.4" y1="406.0" x2="35.3" y2="406.0" stroke="#1a1a1a" stroke-width="1"/>
<text transform="translate(28.80,408.30) scale(0.9000,1)" font-size="6.6" text-anchor="end" fill="#333" stroke="#333" stroke-width="0.15">20</text>
<line x1="32.4" y1="424.60" x2="35.3" y2="424.60" stroke="#1a1a1a" stroke-width="1"/>
<text transform="translate(28.80,426.90) scale(0.9000,1)" font-size="6.6" text-anchor="end" fill="#333" stroke="#333" stroke-width="0.15">10</text>
<line x1="32.4" y1="433.36" x2="35.3" y2="433.36" stroke="#1a1a1a" stroke-width="1"/>
<text transform="translate(28.80,435.66) scale(0.9000,1)" font-size="6.6" text-anchor="end" fill="#333" stroke="#333" stroke-width="0.15">8</text>
<line x1="32.4" y1="442.12" x2="35.3" y2="442.12" stroke="#1a1a1a" stroke-width="1"/>
<text transform="translate(28.80,444.42) scale(0.9000,1)" font-size="6.6" text-anchor="end" fill="#333" stroke="#333" stroke-width="0.15">6</text>
<line x1="32.4" y1="450.88" x2="35.3" y2="450.88" stroke="#1a1a1a" stroke-width="1"/>
<text transform="translate(28.80,453.18) scale(0.9000,1)" font-size="6.6" text-anchor="end" fill="#333" stroke="#333" stroke-width="0.15">4</text>
<line x1="32.4" y1="459.64" x2="35.3" y2="459.64" stroke="#1a1a1a" stroke-width="1"/>
<text transform="translate(28.80,461.94) scale(0.9000,1)" font-size="6.6" text-anchor="end" fill="#333" stroke="#333" stroke-width="0.15">2</text>
<line x1="32.4" y1="468.40" x2="35.3" y2="468.40" stroke="#1a1a1a" stroke-width="1"/>
<text transform="translate(28.80,470.70) scale(0.9000,1)" font-size="6.6" text-anchor="end" fill="#333" stroke="#333" stroke-width="0.15">0</text>
<line x1="34.699999999999996" y1="468.4" x2="214" y2="468.4" stroke="#1a1a1a" stroke-width="1.2"/>
<line x1="35.30" y1="468.4" x2="35.30" y2="471" stroke="#1a1a1a" stroke-width="1"/>
<text transform="translate(35.30,480.30) scale(0.9500,1)" font-size="6.8" text-anchor="middle" fill="#333" stroke="#333" stroke-width="0.15">0</text>
<line x1="79.85" y1="468.4" x2="79.85" y2="471" stroke="#1a1a1a" stroke-width="1"/>
<text transform="translate(79.85,480.30) scale(0.9500,1)" font-size="6.8" text-anchor="middle" fill="#333" stroke="#333" stroke-width="0.15">10</text>
<line x1="124.40" y1="468.4" x2="124.40" y2="471" stroke="#1a1a1a" stroke-width="1"/>
<text transform="translate(124.40,480.30) scale(0.9500,1)" font-size="6.8" text-anchor="middle" fill="#333" stroke="#333" stroke-width="0.15">20</text>
<line x1="168.95" y1="468.4" x2="168.95" y2="471" stroke="#1a1a1a" stroke-width="1"/>
<text transform="translate(168.95,480.30) scale(0.9500,1)" font-size="6.8" text-anchor="middle" fill="#333" stroke="#333" stroke-width="0.15">30</text>
<line x1="213.50" y1="468.4" x2="213.50" y2="471" stroke="#1a1a1a" stroke-width="1"/>
<text transform="translate(213.50,480.30) scale(0.9500,1)" font-size="6.8" text-anchor="middle" fill="#333" stroke="#333" stroke-width="0.15">40</text>
<text transform="translate(73.70,491.80) scale(0.7209,1)" font-size="8.8" text-anchor="start" fill="#333" stroke="#333" stroke-width="0.15">Days since CD19 CAR T-cell infusion</text>
<text transform="translate(17.40,408.70) rotate(-90) scale(0.7609,1)" font-size="8.0" text-anchor="middle" fill="#333" stroke="#333" stroke-width="0.15">CD19 CAR T cells(% in CD3⁺)</text>
<g clip-path="url(#eU)"><path d="M56.5,379 L74.6,359.2 L101.5,381.3" fill="none" stroke="#e07a6a" stroke-width="0.9" stroke-linejoin="round"/><path d="M54.6,377.6 L58.4,377.6 L56.5,380.8 Z" fill="#e07a6a"/><path d="M72.69999999999999,357.8 L76.5,357.8 L74.6,361.0 Z" fill="#e07a6a"/><path d="M99.6,379.90000000000003 L103.4,379.90000000000003 L101.5,383.1 Z" fill="#e07a6a"/></g>
<g clip-path="url(#eU)"><path d="M58.8,416 L61.3,410.5 L70,370.8 L87.7,370.4 L96.6,416" fill="none" stroke="#7b4b2a" stroke-width="0.9" stroke-linejoin="round"/><path d="M59.4,411.9 L63.199999999999996,411.9 L61.3,408.7 Z" fill="#7b4b2a"/><path d="M68.1,372.2 L71.9,372.2 L70,369.0 Z" fill="#7b4b2a"/><path d="M85.8,371.79999999999995 L89.60000000000001,371.79999999999995 L87.7,368.59999999999997 Z" fill="#7b4b2a"/></g>
<g clip-path="url(#eU)"><path d="M70.4,416 L74.6,377.9 L88.3,361.7 L101.5,384.6 L133,402.8 L135.9,416" fill="none" stroke="#7cba4a" stroke-width="0.9" stroke-linejoin="round"/><path d="M72.69999999999999,376.5 L76.5,376.5 L74.6,379.7 Z" fill="#7cba4a"/><path d="M86.39999999999999,360.3 L90.2,360.3 L88.3,363.5 Z" fill="#7cba4a"/><path d="M99.6,383.20000000000005 L103.4,383.20000000000005 L101.5,386.40000000000003 Z" fill="#7cba4a"/><path d="M131.1,401.40000000000003 L134.9,401.40000000000003 L133,404.6 Z" fill="#7cba4a"/></g>
<g clip-path="url(#eU)"><path d="M73,416 L83.8,364.4 L94.6,416" fill="none" stroke="#5da2dc" stroke-width="0.9" stroke-linejoin="round"/><path d="M82.2,362.79999999999995 L85.39999999999999,366.0 M82.2,366.0 L85.39999999999999,362.79999999999995" stroke="#5da2dc" stroke-width="0.9"/></g>
<g clip-path="url(#eU)"><path d="M74.2,416 L79.4,389.8 L86.9,416" fill="none" stroke="#b8926a" stroke-width="0.9" stroke-linejoin="round"/><rect x="78.0" y="388.40000000000003" width="2.8" height="2.8" fill="#b8926a"/></g>
<g clip-path="url(#eU)"><path d="M60.8,416 L66.2,400.5" fill="none" stroke="#8a7ed0" stroke-width="0.9" stroke-linejoin="round"/><rect x="64.8" y="399.1" width="2.8" height="2.8" fill="#8a7ed0"/></g>
<g clip-path="url(#eU)"><path d="M65.9,414.5" fill="none" stroke="#2d6e5c" stroke-width="0.9" stroke-linejoin="round"/><circle cx="65.9" cy="414.5" r="1.15" fill="#2d6e5c"/></g>
<g clip-path="url(#eU)"><path d="M75.4,416 L79.2,402.5 L80.9,416" fill="none" stroke="#2f7055" stroke-width="0.9" stroke-linejoin="round"/><circle cx="79.2" cy="402.5" r="1.15" fill="#2f7055"/></g>
<g clip-path="url(#eU)"><path d="M79.4,416 L83.8,403.1 L86.9,416" fill="none" stroke="#a6a6d8" stroke-width="0.9" stroke-linejoin="round"/><rect x="82.39999999999999" y="401.70000000000005" width="2.8" height="2.8" fill="#a6a6d8"/></g>
<g clip-path="url(#eL)"><path d="M35.3,468.4 L55.5,424" fill="none" stroke="#7b4b2a" stroke-width="0.9" stroke-linejoin="round"/></g>
<g clip-path="url(#eL)"><path d="M35.3,468.4 L60.8,424" fill="none" stroke="#2c4c8c" stroke-width="0.9" stroke-linejoin="round"/></g>
<g clip-path="url(#eL)"><path d="M71,424 L92.7,463 L100,468" fill="none" stroke="#2c4c8c" stroke-width="0.9" stroke-linejoin="round"/></g>
<g clip-path="url(#eL)"><path d="M97,424 L101.5,448 L120,467.5" fill="none" stroke="#7b4b2a" stroke-width="0.9" stroke-linejoin="round"/></g>
<g clip-path="url(#eL)"><path d="M62.2,468.4 L67.6,424" fill="none" stroke="#5da2dc" stroke-width="0.9" stroke-linejoin="round"/></g>
<g clip-path="url(#eL)"><path d="M95.5,424 L101,467" fill="none" stroke="#5da2dc" stroke-width="0.9" stroke-linejoin="round"/></g>
<g clip-path="url(#eL)"><path d="M61.6,468.4 L65.5,424" fill="none" stroke="#4aa0b0" stroke-width="0.7" stroke-linejoin="round"/></g>
<g clip-path="url(#eL)"><path d="M65.9,461.5 L70.3,424" fill="none" stroke="#7cba4a" stroke-width="0.9" stroke-linejoin="round"/></g>
<g clip-path="url(#eL)"><path d="M137.9,424 L146.2,464.2 L147,468" fill="none" stroke="#7cba4a" stroke-width="0.9" stroke-linejoin="round"/><path d="M144.29999999999998,462.8 L148.1,462.8 L146.2,466.0 Z" fill="#7cba4a"/></g>
<g clip-path="url(#eL)"><path d="M74.6,424 L94,446 L101.5,454.2 L133,458 L169.2,460.4" fill="none" stroke="#3a7a55" stroke-width="0.9" stroke-linejoin="round"/><circle cx="169.2" cy="460.4" r="1.15" fill="#3a7a55"/></g>
<g clip-path="url(#eL)"><path d="M78,424 L84,440 L92,468" fill="none" stroke="#3a7a55" stroke-width="0.9" stroke-linejoin="round"/></g>
<g clip-path="url(#eL)"><path d="M35.3,468.4 L65.9,461.5 L83.7,454.3 L96.9,454.3 L110,456" fill="none" stroke="#70b848" stroke-width="0.9" stroke-linejoin="round"/><path d="M64.0,460.1 L67.80000000000001,460.1 L65.9,463.3 Z" fill="#70b848"/><path d="M81.8,452.90000000000003 L85.60000000000001,452.90000000000003 L83.7,456.1 Z" fill="#70b848"/><path d="M95.0,452.90000000000003 L98.80000000000001,452.90000000000003 L96.9,456.1 Z" fill="#70b848"/></g>
<g clip-path="url(#eL)"><path d="M35.3,468.4 L65.9,462 L74.6,466.5 L96.9,467.5 L110,467.8" fill="none" stroke="#f0a030" stroke-width="0.9" stroke-linejoin="round"/><circle cx="65.9" cy="462" r="1.15" fill="#f0a030"/><circle cx="74.6" cy="466.5" r="1.15" fill="#f0a030"/><circle cx="96.9" cy="467.5" r="1.15" fill="#f0a030"/></g>
<g clip-path="url(#eL)"><path d="M35.3,468.4 L65.9,448.7 L72,424" fill="none" stroke="#b8926a" stroke-width="0.9" stroke-linejoin="round"/><rect x="64.5" y="447.3" width="2.8" height="2.8" fill="#b8926a"/></g>
<g clip-path="url(#eL)"><path d="M85,424 L95,458 L108.5,465 L133,460.8" fill="none" stroke="#b8926a" stroke-width="0.9" stroke-linejoin="round"/><rect x="131.6" y="459.40000000000003" width="2.8" height="2.8" fill="#b8926a"/></g>
<g clip-path="url(#eL)"><path d="M66.2,453.1 L83.7,428.7 L101.5,433 L168.5,465" fill="none" stroke="#e0288c" stroke-width="1.0" stroke-linejoin="round"/><circle cx="83.7" cy="428.7" r="1.55" fill="#e0288c"/><circle cx="101.5" cy="433" r="1.55" fill="#e0288c"/><circle cx="168.5" cy="465" r="1.55" fill="#e0288c"/></g>
<g clip-path="url(#eL)"><path d="M65.9,442 L74.6,439.6 L83.7,456.6 L133,456.5 L169.2,456.5 L172.8,457.2" fill="none" stroke="#d9705f" stroke-width="1.0" stroke-linejoin="round"/><rect x="64.5" y="440.6" width="2.8" height="2.8" fill="#d9705f"/><rect x="73.19999999999999" y="438.20000000000005" width="2.8" height="2.8" fill="#d9705f"/><rect x="82.3" y="455.20000000000005" width="2.8" height="2.8" fill="#d9705f"/><rect x="131.6" y="455.1" width="2.8" height="2.8" fill="#d9705f"/><rect x="167.79999999999998" y="455.1" width="2.8" height="2.8" fill="#d9705f"/><rect x="171.4" y="455.8" width="2.8" height="2.8" fill="#d9705f"/></g>
<g clip-path="url(#eL)"><path d="M57.1,452.2 L70.1,462.7 L83.7,462.7 L100,467.5 L123.8,453.2 L164.6,447.3 L169.2,447.3" fill="none" stroke="#c01838" stroke-width="1.0" stroke-linejoin="round"/><circle cx="57.1" cy="452.2" r="1.55" fill="#c01838"/><circle cx="70.1" cy="462.7" r="1.15" fill="#c01838"/><circle cx="83.7" cy="462.7" r="1.55" fill="#c01838"/><circle cx="123.8" cy="453.2" r="1.55" fill="#c01838"/><path d="M164.6,445.3 L166.4,447.3 L164.6,449.3 L162.79999999999998,447.3 Z" fill="#c01838"/><path d="M169.2,445.3 L171.0,447.3 L169.2,449.3 L167.39999999999998,447.3 Z" fill="#c01838"/></g>
<g clip-path="url(#eL)"><path d="M66.2,457 L83.7,451.5 L101.5,444.2 L169.2,451.9" fill="none" stroke="#7a8ab0" stroke-width="1.0" stroke-linejoin="round"/><circle cx="83.7" cy="451.5" r="1.55" fill="#7a8ab0"/><path d="M99.9,442.59999999999997 L103.1,445.8 M99.9,445.8 L103.1,442.59999999999997" stroke="#7a8ab0" stroke-width="0.9"/><circle cx="169.2" cy="451.9" r="1.55" fill="#7a8ab0"/></g>
<g clip-path="url(#eL)"><path d="M64,468 L68,424" fill="none" stroke="#8a7ed0" stroke-width="0.9" stroke-linejoin="round"/></g>
<g clip-path="url(#eL)"><path d="M79,424 L84,440 L90,468" fill="none" stroke="#a6a6d8" stroke-width="0.9" stroke-linejoin="round"/></g>
<g clip-path="url(#eL)"><path d="M35.3,467.8 L100,467.8" fill="none" stroke="#20205a" stroke-width="0.6" stroke-linejoin="round"/></g>
<g clip-path="url(#eL)"><path d="M123.8,467.3 L146.2,467.3" fill="none" stroke="#2c4c8c" stroke-width="0.9" stroke-linejoin="round"/><circle cx="123.8" cy="467.3" r="1.15" fill="#2c4c8c"/><circle cx="146.2" cy="467.3" r="1.15" fill="#2c4c8c"/></g>
<g clip-path="url(#eL)"><path d="M101.5,424 L104,430" fill="none" stroke="#e07a6a" stroke-width="0.9" stroke-linejoin="round"/></g>
<text transform="translate(232.90,342.70)" font-size="11" text-anchor="start" fill="#000" font-weight="bold" stroke="#000" stroke-width="0.3">F</text>
<line x1="265.4" y1="346" x2="265.4" y2="426.1" stroke="#1a1a1a" stroke-width="1.2"/>
<line x1="262.4" y1="426.1" x2="268.1" y2="426.1" stroke="#1a1a1a" stroke-width="1"/>
<line x1="265.4" y1="435.7" x2="265.4" y2="469.1" stroke="#1a1a1a" stroke-width="1.2"/>
<line x1="262.4" y1="435.7" x2="268.1" y2="435.7" stroke="#1a1a1a" stroke-width="1"/>
<line x1="262.4" y1="349.00" x2="265.4" y2="349.00" stroke="#1a1a1a" stroke-width="1"/>
<text transform="translate(259.60,351.30) scale(0.9000,1)" font-size="6.6" text-anchor="end" fill="#333" stroke="#333" stroke-width="0.15">100</text>
<line x1="262.4" y1="366.20" x2="265.4" y2="366.20" stroke="#1a1a1a" stroke-width="1"/>
<text transform="translate(259.60,368.50) scale(0.9000,1)" font-size="6.6" text-anchor="end" fill="#333" stroke="#333" stroke-width="0.15">80</text>
<line x1="262.4" y1="383.40" x2="265.4" y2="383.40" stroke="#1a1a1a" stroke-width="1"/>
<text transform="translate(259.60,385.70) scale(0.9000,1)" font-size="6.6" text-anchor="end" fill="#333" stroke="#333" stroke-width="0.15">60</text>
<line x1="262.4" y1="400.60" x2="265.4" y2="400.60" stroke="#1a1a1a" stroke-width="1"/>
<text transform="translate(259.60,402.90) scale(0.9000,1)" font-size="6.6" text-anchor="end" fill="#333" stroke="#333" stroke-width="0.15">40</text>
<line x1="262.4" y1="417.80" x2="265.4" y2="417.80" stroke="#1a1a1a" stroke-width="1"/>
<text transform="translate(259.60,420.10) scale(0.9000,1)" font-size="6.6" text-anchor="end" fill="#333" stroke="#333" stroke-width="0.15">20</text>
<line x1="262.4" y1="435.70" x2="265.4" y2="435.70" stroke="#1a1a1a" stroke-width="1"/>
<text transform="translate(259.60,438.00) scale(0.9000,1)" font-size="6.6" text-anchor="end" fill="#333" stroke="#333" stroke-width="0.15">10</text>
<line x1="262.4" y1="442.26" x2="265.4" y2="442.26" stroke="#1a1a1a" stroke-width="1"/>
<text transform="translate(259.60,444.56) scale(0.9000,1)" font-size="6.6" text-anchor="end" fill="#333" stroke="#333" stroke-width="0.15">8</text>
<line x1="262.4" y1="448.82" x2="265.4" y2="448.82" stroke="#1a1a1a" stroke-width="1"/>
<text transform="translate(259.60,451.12) scale(0.9000,1)" font-size="6.6" text-anchor="end" fill="#333" stroke="#333" stroke-width="0.15">6</text>
<line x1="262.4" y1="455.38" x2="265.4" y2="455.38" stroke="#1a1a1a" stroke-width="1"/>
<text transform="translate(259.60,457.68) scale(0.9000,1)" font-size="6.6" text-anchor="end" fill="#333" stroke="#333" stroke-width="0.15">4</text>
<line x1="262.4" y1="461.94" x2="265.4" y2="461.94" stroke="#1a1a1a" stroke-width="1"/>
<text transform="translate(259.60,464.24) scale(0.9000,1)" font-size="6.6" text-anchor="end" fill="#333" stroke="#333" stroke-width="0.15">2</text>
<line x1="262.4" y1="468.50" x2="265.4" y2="468.50" stroke="#1a1a1a" stroke-width="1"/>
<text transform="translate(259.60,470.80) scale(0.9000,1)" font-size="6.6" text-anchor="end" fill="#333" stroke="#333" stroke-width="0.15">0</text>
<line x1="264.79999999999995" y1="468.5" x2="446" y2="468.5" stroke="#1a1a1a" stroke-width="1.2"/>
<line x1="265.40" y1="468.5" x2="265.40" y2="471" stroke="#1a1a1a" stroke-width="1"/>
<text transform="translate(265.40,480.30) scale(0.9500,1)" font-size="6.8" text-anchor="middle" fill="#333" stroke="#333" stroke-width="0.15">0</text>
<line x1="310.20" y1="468.5" x2="310.20" y2="471" stroke="#1a1a1a" stroke-width="1"/>
<text transform="translate(310.20,480.30) scale(0.9500,1)" font-size="6.8" text-anchor="middle" fill="#333" stroke="#333" stroke-width="0.15">10</text>
<line x1="355.00" y1="468.5" x2="355.00" y2="471" stroke="#1a1a1a" stroke-width="1"/>
<text transform="translate(355.00,480.30) scale(0.9500,1)" font-size="6.8" text-anchor="middle" fill="#333" stroke="#333" stroke-width="0.15">20</text>
<line x1="399.80" y1="468.5" x2="399.80" y2="471" stroke="#1a1a1a" stroke-width="1"/>
<text transform="translate(399.80,480.30) scale(0.9500,1)" font-size="6.8" text-anchor="middle" fill="#333" stroke="#333" stroke-width="0.15">30</text>
<line x1="444.60" y1="468.5" x2="444.60" y2="471" stroke="#1a1a1a" stroke-width="1"/>
<text transform="translate(444.60,480.30) scale(0.9500,1)" font-size="6.8" text-anchor="middle" fill="#333" stroke="#333" stroke-width="0.15">40</text>
<text transform="translate(304.20,491.80) scale(0.7185,1)" font-size="8.8" text-anchor="start" fill="#333" stroke="#333" stroke-width="0.15">Days since CD22 CAR T-cell Infusion</text>
<text transform="translate(244.00,408.60) rotate(-90) scale(0.8402,1)" font-size="8.2" text-anchor="middle" fill="#333" stroke="#333" stroke-width="0.15">CD22 CAR T cells(% in CD3⁺)</text>
<g clip-path="url(#fU)"><path d="M298.7,427 L310.2,361.5 L332.3,407.3 L355.2,416.7 L386.7,422.1" fill="none" stroke="#3f6e55" stroke-width="0.9" stroke-linejoin="round"/><circle cx="310.2" cy="361.5" r="1.15" fill="#3f6e55"/><circle cx="332.3" cy="407.3" r="1.15" fill="#3f6e55"/><circle cx="355.2" cy="416.7" r="1.15" fill="#3f6e55"/><circle cx="386.7" cy="422.1" r="1.15" fill="#3f6e55"/></g>
<g clip-path="url(#fU)"><path d="M290,427 L296,415.4 L314.8,397.9 L332.3,396.3 L363.3,427" fill="none" stroke="#3f6e55" stroke-width="0.9" stroke-linejoin="round"/><path d="M294.1,414.0 L297.9,414.0 L296,417.2 Z" fill="#3f6e55"/><path d="M312.90000000000003,396.5 L316.7,396.5 L314.8,399.7 Z" fill="#3f6e55"/><path d="M330.40000000000003,394.90000000000003 L334.2,394.90000000000003 L332.3,398.1 Z" fill="#3f6e55"/></g>
<g clip-path="url(#fU)"><path d="M305.4,386.3 L346.5,427" fill="none" stroke="#e08878" stroke-width="0.9" stroke-linejoin="round"/><path d="M303.5,384.90000000000003 L307.29999999999995,384.90000000000003 L305.4,388.1 Z" fill="#e08878"/></g>
<g clip-path="url(#fU)"><path d="M305.4,393.8 L332.3,401.9 L339,427" fill="none" stroke="#2a3f8a" stroke-width="0.9" stroke-linejoin="round"/><circle cx="305.4" cy="393.8" r="1.15" fill="#2a3f8a"/><circle cx="332.3" cy="401.9" r="1.15" fill="#2a3f8a"/></g>
<g clip-path="url(#fU)"><path d="M291.9,406.8 L328.3,405.4 L331,427" fill="none" stroke="#c04848" stroke-width="0.9" stroke-linejoin="round"/><rect x="290.5" y="405.40000000000003" width="2.8" height="2.8" fill="#c04848"/><circle cx="328.3" cy="405.4" r="1.55" fill="#c04848"/></g>
<g clip-path="url(#fU)"><path d="M300,427 L323.7,393.3 L336,427" fill="none" stroke="#5a4ab0" stroke-width="0.9" stroke-linejoin="round"/></g>
<g clip-path="url(#fU)"><path d="M312,427 L323.7,393.3 L332.3,407.9 L338,427" fill="none" stroke="#4a2070" stroke-width="0.9" stroke-linejoin="round"/><circle cx="323.7" cy="393.3" r="1.55" fill="#4a2070"/><circle cx="332.3" cy="407.9" r="1.55" fill="#4a2070"/></g>
<g clip-path="url(#fU)"><path d="M399.6,422.7" fill="none" stroke="#c8208a" stroke-width="0.9" stroke-linejoin="round"/><circle cx="399.6" cy="422.7" r="1.55" fill="#c8208a"/></g>
<g clip-path="url(#fU)"><path d="M314,427 L318.8,412.2 L322,427" fill="none" stroke="#6ab030" stroke-width="0.9" stroke-linejoin="round"/><path d="M316.90000000000003,410.8 L320.7,410.8 L318.8,414.0 Z" fill="#6ab030"/></g>
<g clip-path="url(#fU)"><path d="M319,427 L323.7,413.2 L326,427" fill="none" stroke="#f0a020" stroke-width="0.9" stroke-linejoin="round"/><circle cx="323.7" cy="413.2" r="1.55" fill="#f0a020"/></g>
<g clip-path="url(#fU)"><path d="M309.4,414.9 L336.4,418.1" fill="none" stroke="#b8dc98" stroke-width="0.9" stroke-linejoin="round"/></g>
<g clip-path="url(#fU)"><path d="M311,427 L314.8,418.1 L318,427" fill="none" stroke="#8a8a8a" stroke-width="0.9" stroke-linejoin="round"/><circle cx="314.8" cy="418.1" r="1.55" fill="#8a8a8a"/></g>
<g clip-path="url(#fU)"><path d="M330,427 L332.9,422.1" fill="none" stroke="#a08060" stroke-width="0.9" stroke-linejoin="round"/><rect x="331.5" y="420.70000000000005" width="2.8" height="2.8" fill="#a08060"/></g>
<g clip-path="url(#fU)"><path d="M314,419 L332,427" fill="none" stroke="#3050a0" stroke-width="0.9" stroke-linejoin="round"/></g>
<g clip-path="url(#fL)"><path d="M283.2,463.1 L292.7,448.5 L298,435" fill="none" stroke="#7080a0" stroke-width="0.9" stroke-linejoin="round"/><circle cx="283.2" cy="463.1" r="1.55" fill="#7080a0"/><path d="M292.7,446.5 L294.5,448.5 L292.7,450.5 L290.9,448.5 Z" fill="#7080a0"/></g>
<g clip-path="url(#fL)"><path d="M292.4,462.3 L295.8,435" fill="none" stroke="#2a7050" stroke-width="0.9" stroke-linejoin="round"/><circle cx="292.4" cy="462.3" r="1.15" fill="#2a7050"/></g>
<g clip-path="url(#fL)"><path d="M293,452 L296.5,442 L301,435" fill="none" stroke="#9090d8" stroke-width="0.9" stroke-linejoin="round"/><path d="M296.5,440.0 L298.3,442 L296.5,444.0 L294.7,442 Z" fill="#9090d8"/></g>
<g clip-path="url(#fL)"><path d="M297.3,465.4 L308.8,435" fill="none" stroke="#50a030" stroke-width="0.9" stroke-linejoin="round"/></g>
<g clip-path="url(#fL)"><path d="M296.5,456.9 L324.2,441.5" fill="none" stroke="#704020" stroke-width="0.9" stroke-linejoin="round"/><path d="M294.6,458.29999999999995 L298.4,458.29999999999995 L296.5,455.09999999999997 Z" fill="#704020"/><path d="M322.3,442.9 L326.09999999999997,442.9 L324.2,439.7 Z" fill="#704020"/></g>
<g clip-path="url(#fL)"><path d="M297,466 L321.9,435" fill="none" stroke="#b09070" stroke-width="0.9" stroke-linejoin="round"/></g>
<g clip-path="url(#fL)"><path d="M292.4,466.9 L305.8,466.6 L316.5,435" fill="none" stroke="#f0a020" stroke-width="0.9" stroke-linejoin="round"/><circle cx="292.4" cy="466.9" r="1.55" fill="#f0a020"/><circle cx="305.8" cy="466.6" r="1.55" fill="#f0a020"/></g>
<g clip-path="url(#fL)"><path d="M290,468.2 L330,468.2" fill="none" stroke="#f0a020" stroke-width="1.2" stroke-linejoin="round"/></g>
<g clip-path="url(#fL)"><path d="M296.5,462.3 L314.5,466.6 L332.7,462 L345,462.5 L400.4,468.3" fill="none" stroke="#c01a40" stroke-width="1.0" stroke-linejoin="round"/><circle cx="296.5" cy="462.3" r="1.55" fill="#c01a40"/><circle cx="314.5" cy="466.6" r="1.55" fill="#c01a40"/><path d="M332.7,460.0 L334.5,462 L332.7,464.0 L330.9,462 Z" fill="#c01a40"/></g>
<g clip-path="url(#fL)"><path d="M320.4,435 L328.1,463.1 L345,460.8 L426.9,446.7" fill="none" stroke="#8090a8" stroke-width="1.0" stroke-linejoin="round"/><circle cx="328.1" cy="463.1" r="1.55" fill="#8090a8"/><circle cx="426.9" cy="446.7" r="1.55" fill="#8090a8"/></g>
<g clip-path="url(#fL)"><path d="M325,435 L335.8,446.9 L345,449.2 L400.4,466.3" fill="none" stroke="#88c858" stroke-width="0.9" stroke-linejoin="round"/><path d="M333.90000000000003,445.5 L337.7,445.5 L335.8,448.7 Z" fill="#88c858"/><path d="M398.5,464.90000000000003 L402.29999999999995,464.90000000000003 L400.4,468.1 Z" fill="#88c858"/></g>
<g clip-path="url(#fL)"><path d="M329.6,435 L341.9,465.1" fill="none" stroke="#70b030" stroke-width="0.9" stroke-linejoin="round"/><path d="M340.0,463.70000000000005 L343.79999999999995,463.70000000000005 L341.9,466.90000000000003 Z" fill="#70b030"/></g>
<g clip-path="url(#fL)"><path d="M296.5,466.2" fill="none" stroke="#402080" stroke-width="0.9" stroke-linejoin="round"/><rect x="295.1" y="464.8" width="2.8" height="2.8" fill="#402080"/></g>
<g clip-path="url(#fL)"><path d="M313.9,438.5" fill="none" stroke="#5da2dc" stroke-width="0.9" stroke-linejoin="round"/><path d="M312.29999999999995,436.9 L315.5,440.1 M312.29999999999995,440.1 L315.5,436.9" stroke="#5da2dc" stroke-width="0.9"/></g>
<g clip-path="url(#fL)"><path d="M372.5,435 L396.2,458.1" fill="none" stroke="#3f6e55" stroke-width="0.9" stroke-linejoin="round"/><path d="M394.3,456.70000000000005 L398.09999999999997,456.70000000000005 L396.2,459.90000000000003 Z" fill="#3f6e55"/></g>
<g clip-path="url(#fL)"><path d="M349.4,435 L400.4,465.4" fill="none" stroke="#3050a0" stroke-width="0.9" stroke-linejoin="round"/><path d="M398.5,464.0 L402.29999999999995,464.0 L400.4,467.2 Z" fill="#3050a0"/></g>
<g clip-path="url(#fL)"><path d="M355.2,435 L368.7,449" fill="none" stroke="#e08060" stroke-width="0.9" stroke-linejoin="round"/><path d="M366.8,447.6 L370.59999999999997,447.6 L368.7,450.8 Z" fill="#e08060"/></g>
<g clip-path="url(#fL)"><path d="M352.3,439.4 L359.4,450" fill="none" stroke="#9080d0" stroke-width="0.9" stroke-linejoin="round"/><rect x="358.0" y="448.6" width="2.8" height="2.8" fill="#9080d0"/></g>
<g clip-path="url(#fL)"><path d="M345.6,435 L355.2,463.5" fill="none" stroke="#202060" stroke-width="0.9" stroke-linejoin="round"/><circle cx="355.2" cy="463.5" r="1.15" fill="#202060"/></g>
<g clip-path="url(#fL)"><path d="M353,435 L359,466.3" fill="none" stroke="#402080" stroke-width="0.9" stroke-linejoin="round"/><rect x="357.6" y="464.90000000000003" width="2.8" height="2.8" fill="#402080"/></g>
<g clip-path="url(#fL)"><path d="M300,435 L300.5,468" fill="none" stroke="#3a3a8a" stroke-width="0.9" stroke-linejoin="round"/></g>
</svg>
</body></html>
